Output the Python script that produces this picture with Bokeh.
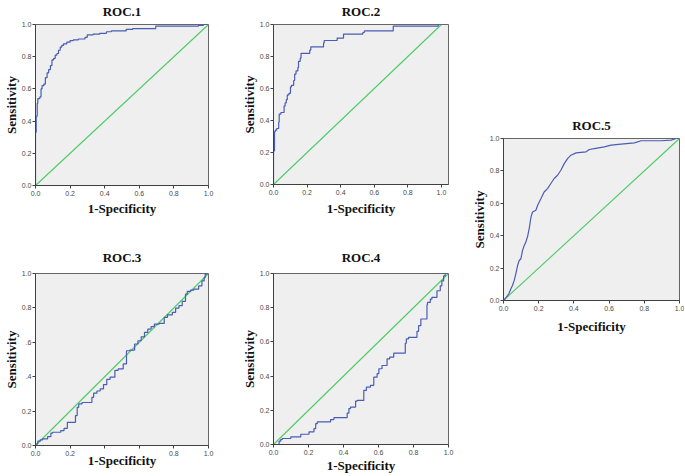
from bokeh.plotting import figure
from bokeh.models import Range1d, FixedTicker
from bokeh.layouts import row, column
from bokeh.embed import file_html
from bokeh.resources import INLINE

# ---------------- data ----------------
ticks = [0.0, 0.2, 0.4, 0.6, 0.8, 1.0]
tick_labels = ["0.0", "0.2", "0.4", "0.6", "0.8", "1.0"]
roc3_x_labels = ["0.0", "0.2", "", "", "0.8", "1.0"]
roc3_y_labels = ["0.0", "0.2", ".4", ".6", "0.8", "1.0"]
diag = [0.0, 1.0]

roc1_fpr = [0.0, 0.0, 0.004, 0.01, 0.013, 0.025, 0.032, 0.038, 0.048, 0.057, 0.067, 0.076, 0.086,
            0.095, 0.105, 0.114, 0.124, 0.133, 0.143, 0.152, 0.162, 0.181, 0.2, 0.219, 0.248,
            0.286, 0.299, 0.333, 0.371, 0.41, 0.438, 0.524, 0.562, 0.695, 0.714, 0.943, 0.971, 1.0]
roc1_tpr = [0.0, 0.24, 0.33, 0.43, 0.51, 0.54, 0.55, 0.60, 0.62, 0.63, 0.67, 0.70, 0.72,
            0.745, 0.78, 0.79, 0.81, 0.82, 0.84, 0.86, 0.87, 0.88, 0.89, 0.90, 0.905,
            0.91, 0.92, 0.935, 0.94, 0.945, 0.955, 0.96, 0.97, 0.975, 0.99, 0.99, 0.995, 1.0]

roc2_fpr = [0.0, 0.0, 0.006, 0.011, 0.019, 0.031, 0.034, 0.044, 0.063, 0.069, 0.076, 0.082, 0.092,
            0.101, 0.107, 0.12, 0.126, 0.134, 0.145, 0.149, 0.159, 0.164, 0.178, 0.216, 0.222,
            0.235, 0.298, 0.302, 0.312, 0.379, 0.388, 0.417, 0.436, 0.532, 0.541, 0.57, 0.713,
            0.723, 0.981, 1.0]
roc2_tpr = [0.0, 0.12, 0.21, 0.33, 0.34, 0.35, 0.39, 0.44, 0.45, 0.49, 0.51, 0.53, 0.56,
            0.57, 0.61, 0.62, 0.65, 0.69, 0.71, 0.73, 0.77, 0.79, 0.82, 0.82, 0.84,
            0.86, 0.86, 0.885, 0.90, 0.90, 0.915, 0.915, 0.94, 0.94, 0.95, 0.96, 0.96,
            0.99, 0.99, 1.0]

roc3_fpr = [0.0, 0.013, 0.027, 0.042, 0.07, 0.089, 0.099, 0.146, 0.165, 0.184, 0.203, 0.231,
            0.241, 0.25, 0.269, 0.326, 0.336, 0.355, 0.374, 0.393, 0.412, 0.431, 0.459, 0.478,
            0.507, 0.526, 0.526, 0.545, 0.573, 0.592, 0.611, 0.63, 0.649, 0.668, 0.687, 0.715,
            0.744, 0.763, 0.791, 0.81, 0.829, 0.848, 0.867, 0.877, 0.896, 0.915, 0.943, 0.962,
            0.975, 0.981, 0.991, 1.0]
roc3_tpr = [0.0, 0.01, 0.025, 0.033, 0.039, 0.052, 0.072, 0.077, 0.087, 0.10, 0.135, 0.135,
            0.174, 0.222, 0.242, 0.25, 0.28, 0.304, 0.317, 0.329, 0.354, 0.385, 0.397, 0.437,
            0.445, 0.474, 0.532, 0.551, 0.555, 0.59, 0.609, 0.632, 0.658, 0.677, 0.691, 0.706,
            0.71, 0.745, 0.76, 0.774, 0.799, 0.813, 0.838, 0.88, 0.896, 0.903, 0.909, 0.928,
            0.957, 0.977, 0.996, 1.0]

roc4_fpr = [0.0, 0.032, 0.042, 0.051, 0.099, 0.156, 0.203, 0.231, 0.241, 0.25, 0.326, 0.345,
            0.374, 0.421, 0.431, 0.44, 0.469, 0.478, 0.516, 0.531, 0.554, 0.573, 0.592, 0.602,
            0.62, 0.649, 0.664, 0.687, 0.706, 0.753, 0.759, 0.772, 0.82, 0.829, 0.842, 0.854,
            0.877, 0.88, 0.896, 0.905, 0.934, 0.953, 0.962, 0.972, 0.981, 1.0]
roc4_tpr = [0.0, 0.0, 0.02, 0.03, 0.035, 0.045, 0.06, 0.074, 0.093, 0.122, 0.132, 0.146,
            0.157, 0.157, 0.184, 0.21, 0.219, 0.254, 0.258, 0.317, 0.336, 0.346, 0.394, 0.414,
            0.443, 0.462, 0.501, 0.511, 0.534, 0.534, 0.592, 0.618, 0.627, 0.662, 0.695, 0.734,
            0.734, 0.817, 0.831, 0.85, 0.86, 0.899, 0.928, 0.957, 0.986, 1.0]

roc5_fpr = [0.0, 0.013, 0.023, 0.032, 0.042, 0.051, 0.061, 0.07, 0.08, 0.089, 0.099, 0.108,
            0.118, 0.127, 0.137, 0.146, 0.156, 0.165, 0.184, 0.194, 0.213, 0.231, 0.25, 0.269,
            0.288, 0.307, 0.326, 0.345, 0.364, 0.383, 0.412, 0.469, 0.488, 0.516, 0.573, 0.611,
            0.668, 0.744, 0.782, 0.896, 0.953, 0.981, 1.0]
roc5_tpr = [0.0, 0.016, 0.03, 0.045, 0.072, 0.093, 0.124, 0.165, 0.216, 0.247, 0.258, 0.309,
            0.34, 0.361, 0.396, 0.443, 0.515, 0.546, 0.557, 0.588, 0.629, 0.67, 0.691, 0.722,
            0.753, 0.773, 0.804, 0.845, 0.876, 0.897, 0.911, 0.918, 0.932, 0.938, 0.948, 0.959,
            0.965, 0.973, 0.986, 0.986, 0.99, 1.0, 1.0]

# ---------------- styling ----------------
BG = "#efefef"
BLUE = "#4a5db5"
GREEN = "#4ccc66"
SERIF = "Liberation Serif"
SANS = "Liberation Sans"


def panel(title, fpr, tpr, xmax, size, borders, title_valign, title_standoff, title_offset,
          xlab_standoff, xlabels, ylabels, stepped=True):
    w, h = size
    bl, bt, br, bb = borders
    p = figure(width=w, height=h, min_border_left=bl, min_border_top=bt,
               min_border_right=br, min_border_bottom=bb,
               x_range=Range1d(0, xmax), y_range=Range1d(0, 1),
               output_backend="svg", toolbar_location=None,
               background_fill_color=BG, border_fill_color="white",
               title=title, title_location="above")
    p.title.text_font = SERIF
    p.title.text_font_style = "bold"
    p.title.text_font_size = "13px"
    p.title.text_color = "#111111"
    p.title.align = "center"
    p.title.vertical_align = title_valign
    p.title.standoff = title_standoff
    p.title.offset = title_offset
    p.grid.visible = False
    p.outline_line_color = "#666666"
    p.outline_line_width = 1
    for ax in (p.xaxis[0], p.yaxis[0]):
        ax.ticker = FixedTicker(ticks=ticks)
        ax.axis_line_color = "#404040"
        ax.axis_line_width = 1
        ax.major_tick_line_color = "#404040"
        ax.major_tick_in = 0
        ax.major_tick_out = 3
        ax.minor_tick_line_color = None
        ax.major_label_text_font = SANS
        ax.major_label_text_font_size = "7px"
        ax.major_label_text_color = "#4a4a4a"
        ax.axis_label_text_font = SERIF
        ax.axis_label_text_font_style = "bold"
        ax.axis_label_text_font_size = "13px"
        ax.axis_label_text_color = "#111111"
    p.xaxis[0].axis_label = "1-Specificity"
    p.yaxis[0].axis_label = "Sensitivity"
    p.xaxis[0].major_label_standoff = 2
    p.yaxis[0].major_label_standoff = 1
    p.xaxis[0].axis_label_standoff = xlab_standoff
    p.yaxis[0].axis_label_standoff = 0
    p.xaxis[0].major_label_overrides = {t: s for t, s in zip(ticks, xlabels)}
    p.yaxis[0].major_label_overrides = {t: s for t, s in zip(ticks, ylabels)}

    p.line(diag, diag, line_color=GREEN, line_width=1.1)
    if stepped:
        p.step(fpr, tpr, mode="before", line_color=BLUE, line_width=1.2)
    else:
        p.line(fpr, tpr, line_color=BLUE, line_width=1.2)
    return p


p1 = panel("ROC.1", roc1_fpr, roc1_tpr, 1.0, (232, 225), (35, 24, 22, 40), "top", 7, 4, 2,
           tick_labels, tick_labels)
p3 = panel("ROC.3", roc3_fpr, roc3_tpr, 1.0, (232, 250), (33, 48, 24, 30), "bottom", 18, 5, -6,
           roc3_x_labels, roc3_y_labels)
p2 = panel("ROC.2", roc2_fpr, roc2_tpr, 1.042, (236, 225), (35, 23, 19, 41), "top", 7, 2, 3,
           tick_labels, tick_labels)
p4 = panel("ROC.4", roc4_fpr, roc4_tpr, 1.0, (236, 250), (41, 48, 20, 31), "bottom", 18, -1, 0,
           tick_labels, tick_labels)
p5 = panel("ROC.5", roc5_fpr, roc5_tpr, 1.0, (216, 337), (35, 138, 5, 37), "bottom", 11, -3, 5,
           tick_labels, tick_labels, stepped=False)

layout = row(column(p1, p3), column(p2, p4), p5)

open("out.html", "w").write(file_html(layout, INLINE))
